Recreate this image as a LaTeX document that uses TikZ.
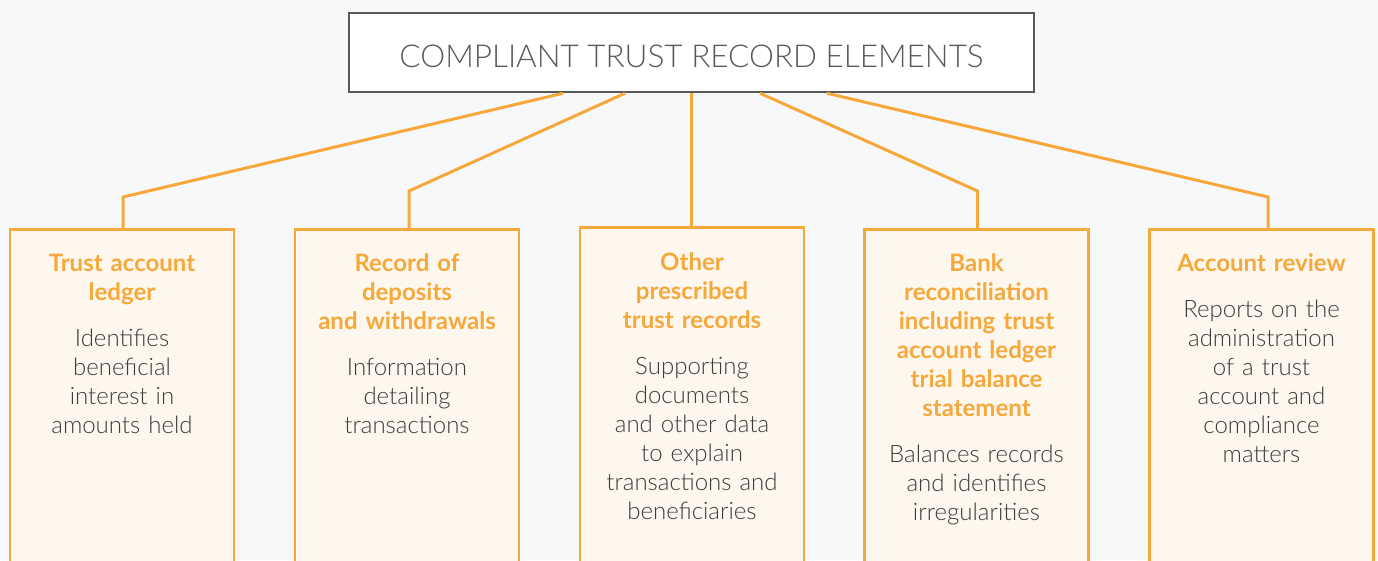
\documentclass[tikz,border=0pt]{standalone}
\usepackage{fontspec}
\setmainfont{Lato}
\newfontfamily\lightfont{Lato Light}
\definecolor{bgc}{HTML}{F7F8FA}
\definecolor{orng}{HTML}{F7A83B}
\definecolor{boxfill}{HTML}{FEF7EE}
\definecolor{titlegray}{HTML}{58595B}
\definecolor{bodytext}{HTML}{3C3C3C}
\begin{document}
\begin{tikzpicture}[x=1pt,y=-1pt,
  titlebox/.style={draw=titlegray,line width=2.5pt,fill=white,minimum width=685pt,minimum height=79pt,inner sep=0pt,
    font=\lightfont\fontsize{31.5}{36}\selectfont,text=titlegray,text height=29.4pt,text depth=0pt},
  recbox/.style={draw=orng,line width=2.5pt,fill=boxfill,minimum width=224pt,minimum height=360pt,anchor=north,inner sep=0pt},
  rectext/.style={text width=222pt,align=center,inner sep=0pt,anchor=base,font=\lightfont\fontsize{24}{29}\selectfont,text=bodytext},
  conn/.style={draw=orng,line width=3pt}]
\useasboundingbox (0,0) rectangle (1378,560);
\clip (0,0) rectangle (1378,560);
\fill[bgc] (0,0) rectangle (1378,560);
\newcommand{\hd}[1]{{\normalfont\fontsize{24}{29}\selectfont\bfseries\color{orng}#1}}
% boxes
\node[recbox] (b1) at (122,228) {};
\node[recbox] (b2) at (407,228) {};
\node[recbox] (b3) at (692,226) {};
\node[recbox] (b4) at (976.5,228) {};
\node[recbox] (b5) at (1261.5,228) {};
% title
\node[titlebox] (title) at (691.5,52.5) {COMPLIANT TRUST RECORD ELEMENTS};
% connector coordinates
\coordinate (s1) at (563,92);
\coordinate (s2) at (625,92);
\coordinate (s3) at (691.5,92);
\coordinate (s4) at (760,92);
\coordinate (s5) at (827,92);
\coordinate (e1) at (123,197);
\coordinate (e2) at (409,191);
\coordinate (e4) at (977.5,191);
\coordinate (e5) at (1268,197);
\draw[conn] (title.south -| s1) -- (e1) -- (e1 |- b1.north);
\draw[conn] (title.south -| s2) -- (e2) -- (e2 |- b2.north);
\draw[conn] (title.south -| s3) -- (s3 |- b3.north);
\draw[conn] (title.south -| s4) -- (e4) -- (e4 |- b4.north);
\draw[conn] (title.south -| s5) -- (e5) -- (e5 |- b5.north);
% texts
\node[rectext] (t1) at (122,271) {\hd{Trust account\\ ledger}\\[17pt] Identifies\\ beneficial\\ interest in\\ amounts held};
\node[rectext] (t2) at (407,271) {\hd{Record of\\ deposits\\ and withdrawals}\\[17pt] Information\\ detailing\\ transactions};
\node[rectext] (t3) at (692,270.5) {\hd{Other\\ prescribed\\ trust records}\\[17pt] Supporting\\ documents\\ and other data\\ to explain\\ transactions and\\ beneficiaries};
\node[rectext] (t4) at (976.5,271) {\hd{Bank\\ reconciliation\\ including trust\\ account ledger\\ trial balance\\ statement}\\[17pt] Balances records\\ and identifies\\ irregularities};
\node[rectext] (t5) at (1261.5,271) {\hd{Account review}\\[17pt] Reports on the\\ administration\\ of a trust\\ account and\\ compliance\\ matters};
\end{tikzpicture}
\end{document}
